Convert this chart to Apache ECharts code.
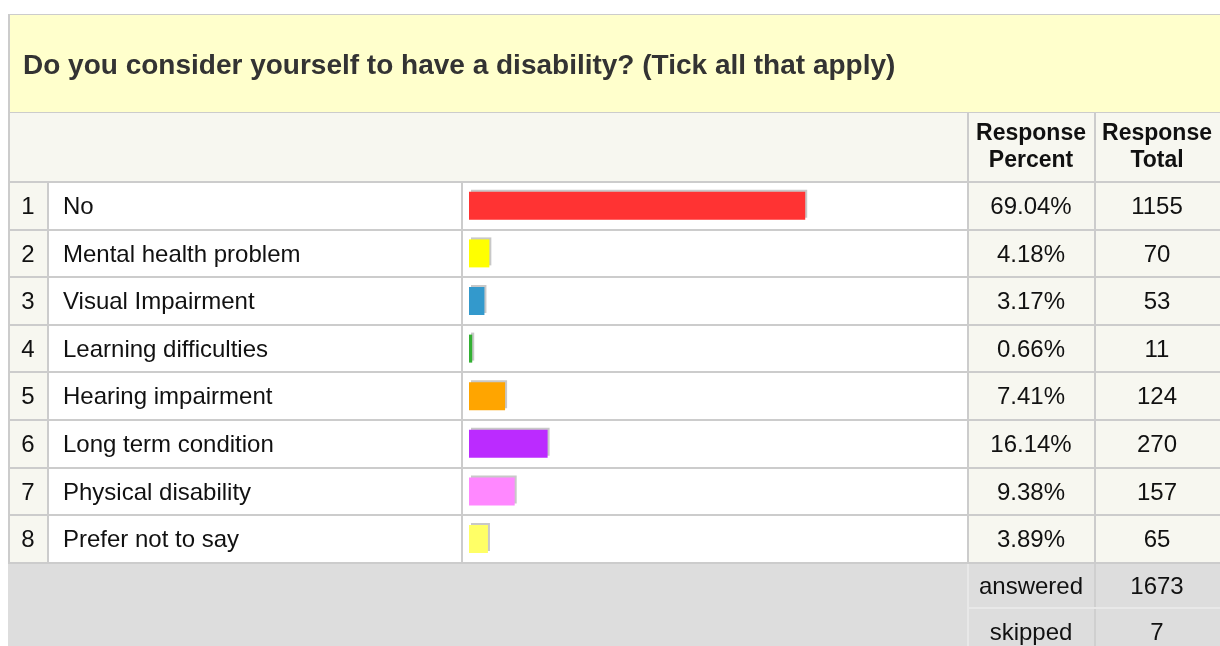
<!DOCTYPE html>
<html>
<head>
    <meta charset="utf-8">
    <title>Do you consider yourself to have a disability?</title>
    <script type="text/javascript" src="https://cdn.jsdelivr.net/npm/echarts@6/dist/echarts.min.js"></script>
    <style>
        *{
            margin:0;
            padding:0;
        }
        body{
            background:#fff;
        }
        #main{
            width:1220px;
            height:646px;
        }
    </style>
</head>
<body>
<div id="main"></div>
<script type="text/javascript">
    var question = 'Do you consider yourself to have a disability? (Tick all that apply)';
    var answers = ['No', 'Mental health problem', 'Visual Impairment', 'Learning difficulties',
        'Hearing impairment', 'Long term condition', 'Physical disability', 'Prefer not to say'];
    var percents = [69.04, 4.18, 3.17, 0.66, 7.41, 16.14, 9.38, 3.89];
    var totals = [1155, 70, 53, 11, 124, 270, 157, 65];
    var barColors = ['#ff3333', '#ffff00', '#3399cc', '#33b033', '#ffa500', '#bb2bff', '#ff88ff', '#ffff66'];
    var answered = 1673;
    var skipped = 7;

    (function(){
        var chart = echarts.init(document.getElementById('main'));

        var FONT = '"Liberation Sans", Arial, sans-serif';
        var LINE = '#cccccc';
        var BEIGE = '#f7f7f0';
        var top0 = 182, rowH = 47.6;
        var colX = [8, 48, 462, 968, 1095, 1220];

        function rect(x, y, w, h, fill){
            return {type: 'rect', silent: true, shape: {x: x, y: y, width: w, height: h}, style: {fill: fill}};
        }
        function text(x, y, str, opt){
            opt = opt || {};
            return {
                type: 'text', silent: true, x: x, y: y,
                style: {
                    text: str, fill: opt.color || '#111',
                    font: (opt.bold ? 'bold ' : '') + (opt.size || 24) + 'px ' + FONT,
                    textAlign: opt.align || 'left', textVerticalAlign: 'middle'
                }
            };
        }

        var g = [];
        // title band
        g.push(rect(8, 14, 1212, 98, '#ffffcc'));
        g.push(rect(8, 14, 1212, 1, LINE));
        g.push(text(23, 66, question, {bold: true, size: 28, color: '#333'}));
        // header band
        g.push(rect(8, 112, 1212, 70, BEIGE));
        g.push(rect(8, 112, 1212, 1, LINE));
        g.push(text(1031, 134, 'Response', {bold: true, size: 23, align: 'center', color: '#111'}));
        g.push(text(1031, 161, 'Percent', {bold: true, size: 23, align: 'center', color: '#111'}));
        g.push(text(1157, 134, 'Response', {bold: true, size: 23, align: 'center', color: '#111'}));
        g.push(text(1157, 161, 'Total', {bold: true, size: 23, align: 'center', color: '#111'}));
        g.push(rect(967, 113, 2, 69, LINE));
        g.push(rect(1094, 113, 2, 69, LINE));

        // body rows
        var bodyEnd = Math.round(top0 + rowH * answers.length);
        g.push(rect(colX[0], top0, colX[1] - colX[0], bodyEnd - top0, BEIGE));
        g.push(rect(colX[1], top0, colX[3] - colX[1], bodyEnd - top0, '#ffffff'));
        g.push(rect(colX[3], top0, colX[5] - colX[3], bodyEnd - top0, BEIGE));
        answers.forEach(function(name, i){
            var cy = top0 + rowH * (i + 0.5) + 1.5;
            g.push(text(28, cy, String(i + 1), {align: 'center'}));
            g.push(text(63, cy, name));
            g.push(text(1031, cy, percents[i].toFixed(2) + '%', {align: 'center'}));
            g.push(text(1157, cy, String(totals[i]), {align: 'center'}));
        });
        for (var k = 0; k <= answers.length; k++) {
            g.push(rect(8, Math.round(top0 + rowH * k) - 1, 1212, 2, LINE));
        }
        [47, 461, 967, 1094].forEach(function(x){
            g.push(rect(x, top0, 2, bodyEnd - top0, LINE));
        });
        // left border
        g.push(rect(8, 14, 2, bodyEnd - 14, LINE));

        // footer
        g.push(rect(8, bodyEnd + 1, 1212, 646 - bodyEnd, '#dddddd'));
        g.push(rect(967, bodyEnd + 1, 2, 646 - bodyEnd, '#e8e8e8'));
        g.push(rect(1094, bodyEnd + 1, 2, 646 - bodyEnd, '#cfcfcf'));
        g.push(rect(968, 607, 252, 2, '#e8e8e8'));
        g.push(text(1031, 587, 'answered', {align: 'center'}));
        g.push(text(1157, 587, String(answered), {align: 'center'}));
        g.push(text(1031, 633, 'skipped', {align: 'center'}));
        g.push(text(1157, 633, String(skipped), {align: 'center'}));

        var option = {
            animation: false,
            graphic: {elements: g},
            grid: {left: 469, top: top0, width: 487, height: rowH * answers.length},
            xAxis: {type: 'value', min: 0, max: 100, show: false},
            yAxis: {type: 'category', data: answers, inverse: true, show: false},
            series: [{
                type: 'bar',
                barWidth: 28,
                z: 5,
                data: percents.map(function(v, i){
                    return {value: v, itemStyle: {color: barColors[i]}};
                }),
                itemStyle: {
                    shadowColor: '#c8c8c8',
                    shadowBlur: 0,
                    shadowOffsetX: 2,
                    shadowOffsetY: -2
                }
            }]
        };
        chart.setOption(option);
    })();
</script>
</body>
</html>
